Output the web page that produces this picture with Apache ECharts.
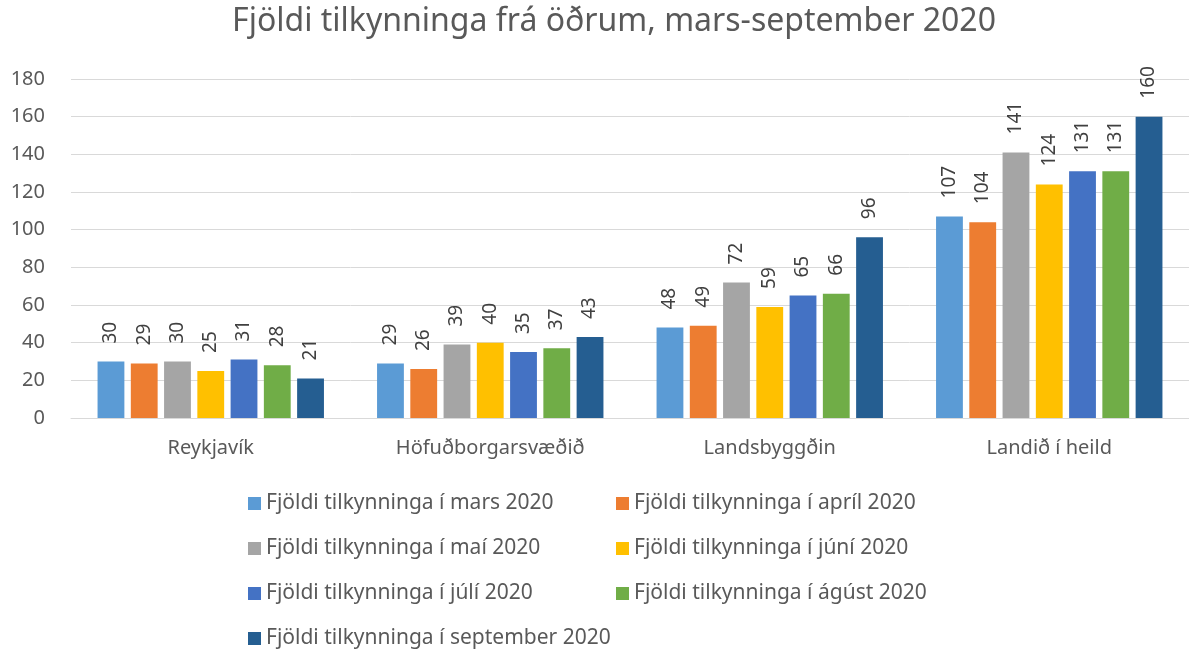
<!DOCTYPE html>
<html>
<head>
<meta charset="utf-8">
<script src="https://cdn.jsdelivr.net/npm/echarts@6/dist/echarts.min.js"></script>
<style>html,body{margin:0;padding:0;background:#fff}#c{width:1189px;height:649px}</style>
</head>
<body>
<div id="c"></div>
<script>
const categories = ['Reykjavík', 'Höfuðborgarsvæðið', 'Landsbyggðin', 'Landið í heild'];
const seriesNames = [
  'Fjöldi tilkynninga í mars 2020',
  'Fjöldi tilkynninga í apríl 2020',
  'Fjöldi tilkynninga í maí 2020',
  'Fjöldi tilkynninga í júní 2020',
  'Fjöldi tilkynninga í júlí 2020',
  'Fjöldi tilkynninga í ágúst 2020',
  'Fjöldi tilkynninga í september 2020'
];
const mars = [30, 29, 48, 107];
const april = [29, 26, 49, 104];
const mai = [30, 39, 72, 141];
const juni = [25, 40, 59, 124];
const juli = [31, 35, 65, 131];
const agust = [28, 37, 66, 131];
const september = [21, 43, 96, 160];
const seriesValues = [mars, april, mai, juni, juli, agust, september];
const colors = ['#5B9BD5', '#ED7D31', '#A5A5A5', '#FFC000', '#4472C4', '#70AD47', '#255E91'];
const yTicks = [0, 20, 40, 60, 80, 100, 120, 140, 160, 180];

const font = 'Noto Sans';
const chart = echarts.init(document.getElementById('c'));
const legendText = {fontFamily: font, fontSize: 21, color: '#595959'};
chart.setOption({
  animation: false,
  color: colors,
  title: {
    text: 'Fjöldi tilkynninga frá öðrum, mars-september 2020',
    left: 609, top: 1, textAlign: 'center',
    textStyle: {fontFamily: font, fontWeight: 'normal', fontSize: 32, color: '#595959'}
  },
  legend: [
    {
      orient: 'vertical', left: 248, top: 493, height: 156, padding: 0, itemGap: 24,
      itemWidth: 13, itemHeight: 13, icon: 'rect',
      data: [seriesNames[0], seriesNames[2], seriesNames[4], seriesNames[6]],
      textStyle: legendText
    },
    {
      orient: 'vertical', left: 616, top: 493, height: 156, padding: 0, itemGap: 24,
      itemWidth: 13, itemHeight: 13, icon: 'rect',
      data: [seriesNames[1], seriesNames[3], seriesNames[5]],
      textStyle: legendText
    }
  ],
  grid: {left: 71, right: 0, top: 79, bottom: 231, containLabel: false},
  xAxis: {
    type: 'category', data: categories,
    axisLine: {lineStyle: {color: '#D9D9D9', width: 1}},
    axisTick: {show: false},
    axisLabel: {fontFamily: font, fontSize: 20, color: '#595959', margin: 20}
  },
  yAxis: {
    type: 'value', min: 0, max: 180, interval: 20,
    axisLine: {show: false}, axisTick: {show: false},
    splitLine: {lineStyle: {color: '#D9D9D9', width: 1}},
    axisLabel: {fontFamily: font, fontSize: 20, color: '#595959', margin: 26,
      formatter: v => yTicks.includes(v) ? String(v) : ''}
  },
  series: seriesValues.map((vals, i) => ({
    name: seriesNames[i], type: 'bar', data: vals,
    barGap: '24%', barCategoryGap: '19%',
    label: {
      show: true, position: 'top', rotate: 90, align: 'left', verticalAlign: 'middle',
      distance: 18, fontFamily: font, fontSize: 19, color: '#404040'
    }
  }))
});
</script>
</body>
</html>
